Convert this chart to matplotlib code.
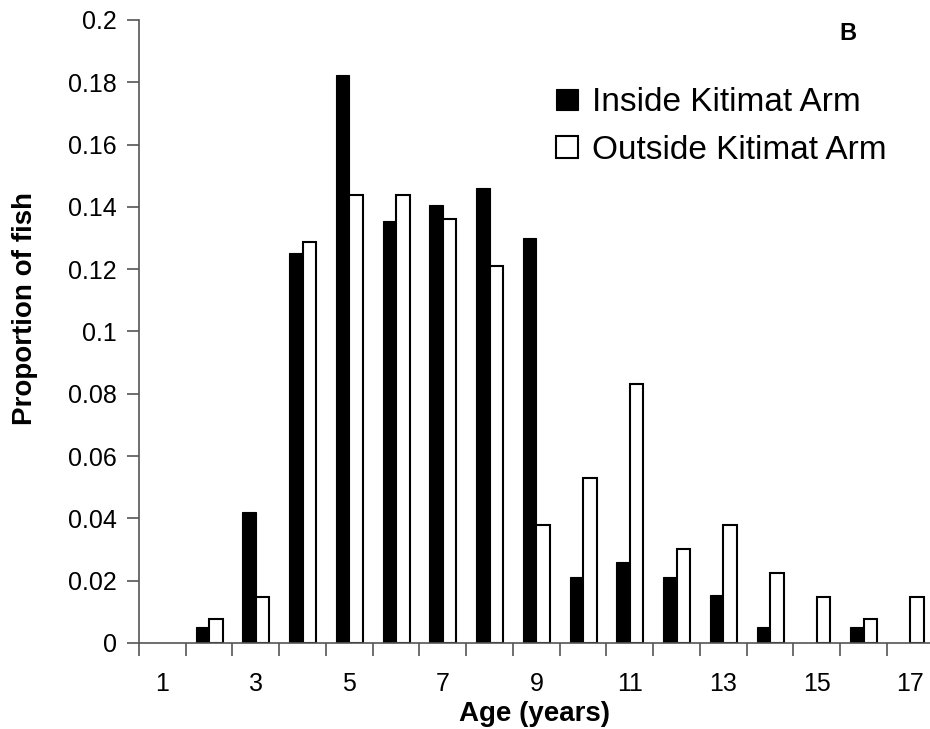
import matplotlib
matplotlib.use("Agg")
import matplotlib.pyplot as plt
from matplotlib.patches import Patch
import numpy as np

plt.rcParams["font.family"] = ["Liberation Sans", "DejaVu Sans"]

ages = list(range(1, 18))
inside = [0, 0.0052, 0.042, 0.1251, 0.1822, 0.1356, 0.1406, 0.1461, 0.1301,
          0.0211, 0.0261, 0.0211, 0.0155, 0.0052, 0, 0.0052, 0]
outside = [0, 0.0078, 0.0149, 0.1288, 0.1437, 0.1438, 0.1361, 0.1210, 0.0380,
           0.0529, 0.0832, 0.0303, 0.0380, 0.0226, 0.0149, 0.0078, 0.0149]
tick_labels = [str(a) if a % 2 == 1 else "" for a in ages]

fig = plt.figure(figsize=(9.3, 7.29), dpi=100)
ax = fig.add_axes([139 / 930, 1 - 643 / 729, 1 - 139 / 930, (643 - 20) / 729])

x = np.array(ages)
w = 0.29
# zero-height bars would leave a black line on the axis, so hide their edges
in_edges = ["black" if v > 0 else "none" for v in inside]
out_edges = ["black" if v > 0 else "none" for v in outside]
ax.bar(x - w / 2, inside, width=w, color="black", edgecolor=in_edges,
       linewidth=0.8)
ax.bar(x + w / 2, outside, width=w, color="white", edgecolor=out_edges,
       linewidth=1.5)

ax.set_xlim(0.5, 17.42)
ax.set_ylim(0, 0.2)
ax.set_yticks(np.arange(0, 0.201, 0.02))
ax.set_yticklabels(["0"] + [f"{v:g}" for v in np.arange(0.02, 0.201, 0.02)])

ax.set_xticks(x)
ax.set_xticklabels(tick_labels)
ax.set_xticks(np.arange(0.5, 17.5, 1), minor=True)
ax.tick_params(axis="x", which="major", length=0, pad=21, labelsize=18)
ax.tick_params(axis="x", which="minor", length=9, width=1.2, color="#555555")
ax.tick_params(axis="y", length=9, width=1.2, color="#555555", pad=7,
               labelsize=18)

for s in ["top", "right"]:
    ax.spines[s].set_visible(False)
ax.spines["left"].set_color("#555555")
ax.spines["bottom"].set_color("#555555")
ax.spines["left"].set_linewidth(1.2)
ax.spines["bottom"].set_linewidth(1.2)

ax.set_ylabel("Proportion of fish", fontsize=20, fontweight="bold",
              va="center")
ax.yaxis.set_label_coords((25 - 139) / 791, (643 - 309) / 623)
ax.set_xlabel("Age (years)", fontsize=20, fontweight="bold", va="center")
ax.xaxis.set_label_coords(0.5, (643 - 714) / 623)

handles = [Patch(facecolor="black", edgecolor="black", linewidth=0.8),
           Patch(facecolor="white", edgecolor="black", linewidth=1.5)]
fig.legend(handles, ["Inside Kitimat Arm", "Outside Kitimat Arm"],
           loc="upper left", bbox_to_anchor=(556 / 930, 1 - 87 / 729),
           frameon=False, fontsize=24, handlelength=0.65, handleheight=0.6,
           handletextpad=0.42, labelspacing=0.5, borderpad=0, borderaxespad=0)

fig.text(848 / 930, 1 - 34 / 729, "B", fontsize=17, fontweight="bold",
         ha="center", va="center")

fig.savefig("out.png", dpi=100)
